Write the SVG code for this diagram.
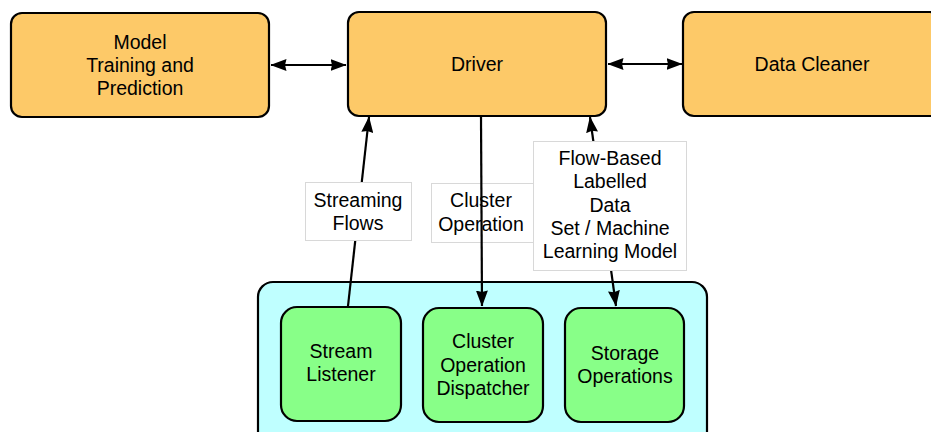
<svg xmlns="http://www.w3.org/2000/svg" width="931" height="432" viewBox="0 0 931 432">
  <style>
    .top { fill: #FDC968; stroke: #000; stroke-width: 2.2; }
    .group { fill: #BFFFFF; stroke: #000; stroke-width: 2.2; }
    .comp { fill: #88FF88; stroke: #000; stroke-width: 2.2; }
    .label { fill: #fff; stroke: #d8d8d8; stroke-width: 1; }
    text { font-family: "Liberation Sans", Arial, Helvetica, sans-serif; font-size: 19.5px; fill: #000; text-anchor: middle; }
    .link { fill: none; stroke: #000; stroke-width: 2.2; }
  </style>
  <defs>
    <marker id="arrow" viewBox="0 0 16 12" refX="15.5" refY="6" markerWidth="16" markerHeight="12" markerUnits="userSpaceOnUse" orient="auto-start-reverse">
      <path d="M0,0 L16,6 L0,12 L1.5,6 z" fill="#000"/>
    </marker>
  </defs>

  <rect width="931" height="432" fill="#fff"/>

  <!-- top row -->
  <g id="model">
    <rect class="top" x="11" y="13" width="258" height="104" rx="11"/>
    <text x="140" y="49">Model</text>
    <text x="140" y="72">Training and</text>
    <text x="140" y="95">Prediction</text>
  </g>
  <g id="driver">
    <rect class="top" x="348" y="12" width="258" height="104" rx="11"/>
    <text x="477" y="71">Driver</text>
  </g>
  <g id="cleaner">
    <rect class="top" x="683" y="12" width="258" height="104" rx="11"/>
    <text x="812" y="71">Data Cleaner</text>
  </g>

  <!-- worker container -->
  <g id="workers">
    <rect class="group" x="258" y="282" width="449" height="170" rx="15"/>
  </g>
  <g id="stream-listener">
    <rect class="comp" x="281" y="307" width="120" height="114" rx="16"/>
    <text x="341" y="358">Stream</text>
    <text x="341" y="381">Listener</text>
  </g>
  <g id="cluster-dispatcher">
    <rect class="comp" x="423" y="308" width="120" height="114" rx="16"/>
    <text x="483" y="348">Cluster</text>
    <text x="483" y="372">Operation</text>
    <text x="483" y="395">Dispatcher</text>
  </g>
  <g id="storage">
    <rect class="comp" x="565" y="308" width="119" height="114" rx="16"/>
    <text x="625" y="360">Storage</text>
    <text x="625" y="383">Operations</text>
  </g>

  <!-- connectors -->
  <g id="connectors">
    <line class="link" x1="271" y1="65" x2="346" y2="65" marker-start="url(#arrow)" marker-end="url(#arrow)"/>
    <line class="link" x1="608" y1="64" x2="682" y2="64" marker-start="url(#arrow)" marker-end="url(#arrow)"/>

    <!-- stream listener to driver -->
    <line class="link" x1="348" y1="306" x2="369" y2="117" marker-end="url(#arrow)"/>
    <g>
      <rect class="label" x="305.5" y="182.5" width="106" height="58"/>
      <text x="358" y="207">Streaming</text>
      <text x="358" y="230">Flows</text>
    </g>

    <!-- driver to dispatcher -->
    <g>
      <rect class="label" x="431.5" y="183.5" width="120" height="59"/>
      <text x="481" y="207">Cluster</text>
      <text x="481" y="231">Operation</text>
    </g>
    <line class="link" x1="481" y1="117" x2="482" y2="306" marker-end="url(#arrow)"/>

    <!-- driver to storage -->
    <line class="link" x1="616" y1="306" x2="590" y2="117" marker-start="url(#arrow)" marker-end="url(#arrow)"/>
    <g>
      <rect class="label" x="533.5" y="141.5" width="153" height="129"/>
      <text x="610" y="165">Flow-Based</text>
      <text x="610" y="188">Labelled</text>
      <text x="610" y="212">Data</text>
      <text x="610" y="235">Set / Machine</text>
      <text x="610" y="258">Learning Model</text>
    </g>
  </g>
</svg>
